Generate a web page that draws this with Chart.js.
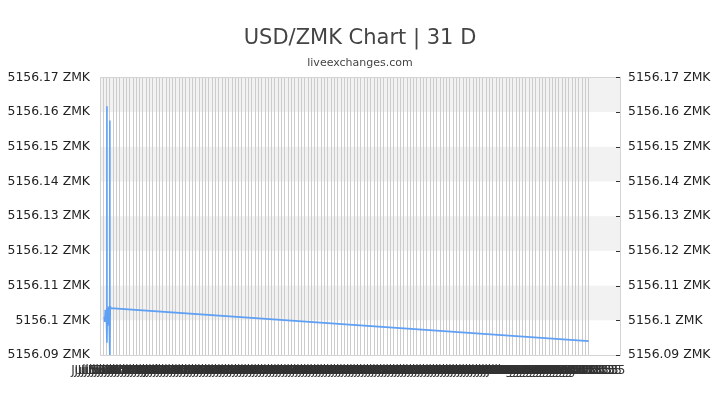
<!DOCTYPE html>
<html>
<head>
<meta charset="utf-8">
<script src="https://cdn.jsdelivr.net/npm/chart.js@4"></script>
<style>
html,body{margin:0;padding:0;background:#fff;}
#wrap{width:720px;height:405px;}
</style>
</head>
<body>
<div id="wrap"><canvas id="c" width="720" height="405"></canvas></div>
<script>
// ---- data ----
const titleText = 'USD/ZMK Chart | 31 D';
const subtitleText = 'liveexchanges.com';
const unit = ' ZMK';
// x positions (sample index) and rates
const sampleIndex = [0.3, 0.45, 0.6, 0.75, 0.9, 1.1, 1.1, 1.1, 1.2, 1.4, 1.6, 1.8, 1.95, 2.0, 2.0, 2.0, 2.1, 2.2, 147];
const rates = [5156.1010, 5156.0995, 5156.1030, 5156.1000, 5156.1025, 5156.1035, 5156.1617, 5156.0935, 5156.1025, 5156.0985, 5156.1040, 5156.0995, 5156.1030, 5156.1020, 5156.1576, 5156.0890, 5156.1040, 5156.1035, 5156.0940];
const sampleCount = 148;
const yMin = 5156.09, yMax = 5156.17, yStep = 0.01, yMinorStep = 0.005;
// tick labels (timestamps of each sample)
const tickLabels = [];
(function(){
  const mon = ['Jan','Feb','Mar','Apr','May','Jun','Jul','Aug','Sep','Oct','Nov','Dec'];
  const t = Date.UTC(2023, 6, 5, 8, 35);
  for (let i = 0; i < sampleCount; i++) {
    const d = new Date(t + i * 5 * 3600 * 1000);
    tickLabels.push(mon[d.getUTCMonth()] + ' ' + d.getUTCDate() + ' ' + String(d.getUTCHours()).padStart(2,'0') + ':35');
  }
})();

const FONT = 'DejaVu Sans';

const bandsPlugin = {
  id: 'bands',
  beforeDraw(chart) {
    const {ctx, chartArea: a, scales: {y}} = chart;
    ctx.save();
    ctx.fillStyle = '#fff';
    ctx.fillRect(0, 0, chart.width, chart.height);
    ctx.fillStyle = '#f2f2f2';
    const ticks = y.ticks.map(t => t.value).sort((p, q) => q - p);
    for (let i = 0; i < ticks.length - 1; i += 2) {
      const top = y.getPixelForValue(ticks[i]);
      const bot = y.getPixelForValue(ticks[i + 1]);
      ctx.fillRect(a.left, top, a.right - a.left, bot - top);
    }
    ctx.restore();
  },
  afterDraw(chart) {
    const {ctx, chartArea: a, scales: {y2}} = chart;
    ctx.save();
    ctx.strokeStyle = '#d4d4d4';
    ctx.lineWidth = 1;
    ctx.strokeRect(Math.round(a.left) + 0.5, Math.round(a.top) + 0.5, Math.round(a.right - a.left), Math.round(a.bottom - a.top));
    ctx.strokeStyle = '#333';
    y2.ticks.forEach(t => {
      const py = Math.round(y2.getPixelForValue(t.value)) + 0.5;
      ctx.beginPath();
      ctx.moveTo(a.right - 4, py);
      ctx.lineTo(a.right, py);
      ctx.stroke();
    });
    ctx.restore();
  }
};

new Chart(document.getElementById('c'), {
  type: 'line',
  data: {
    datasets: [{
      data: sampleIndex.map((x, i) => ({x: x, y: rates[i]})),
      borderColor: 'rgb(95,160,245)',
      borderWidth: 1.6,
      pointRadius: 0,
      tension: 0,
      fill: false
    }]
  },
  options: {
    responsive: false,
    animation: false,
    layout: {padding: 0},
    plugins: {
      legend: {display: false},
      tooltip: {enabled: false},
      title: {display: true, text: titleText, color: '#444', font: {family: FONT, size: 21, weight: 'normal'}, padding: {top: 26, bottom: 4}},
      subtitle: {display: true, text: subtitleText, color: '#444', font: {family: FONT, size: 11, weight: 'normal'}, padding: {top: 1, bottom: 8}}
    },
    scales: {
      x: {
        type: 'linear',
        min: -1,
        max: 156.5,
        afterFit(s) { s.height = 50; },
        grid: {
          drawTicks: false,
          color: (c) => (c.tick && c.tick.value >= 0 && c.tick.value <= sampleCount - 1) ? '#cccccc' : 'rgba(0,0,0,0)'
        },
        border: {display: false},
        ticks: {
          stepSize: 1,
          autoSkip: false,
          maxRotation: 0,
          minRotation: 0,
          padding: 9,
          color: '#333',
          font: {family: FONT, size: 12},
          callback: (v) => (Number.isInteger(v) && v >= 0 && v < tickLabels.length) ? tickLabels[v] : ''
        }
      },
      y: {
        position: 'left',
        min: yMin,
        max: yMax,
        afterFit(s) { s.width = 100; },
        grid: {display: false, drawTicks: false},
        border: {display: false},
        ticks: {
          stepSize: yStep,
          padding: 10,
          color: '#222',
          font: {family: FONT, size: 12.4},
          callback: (v) => parseFloat(Number(v).toFixed(2)) + unit
        }
      },
      y2: {
        position: 'right',
        min: yMin,
        max: yMax,
        afterFit(s) { s.width = 100; },
        grid: {display: false, drawTicks: false},
        border: {display: false},
        ticks: {
          stepSize: yMinorStep,
          padding: 8,
          color: '#222',
          font: {family: FONT, size: 12.4},
          callback: (v) => {
            const h = v * 100;
            return Math.abs(h - Math.round(h)) < 1e-3 ? parseFloat(Number(v).toFixed(2)) + unit : '';
          }
        }
      }
    }
  },
  plugins: [bandsPlugin]
});
</script>
</body>
</html>
